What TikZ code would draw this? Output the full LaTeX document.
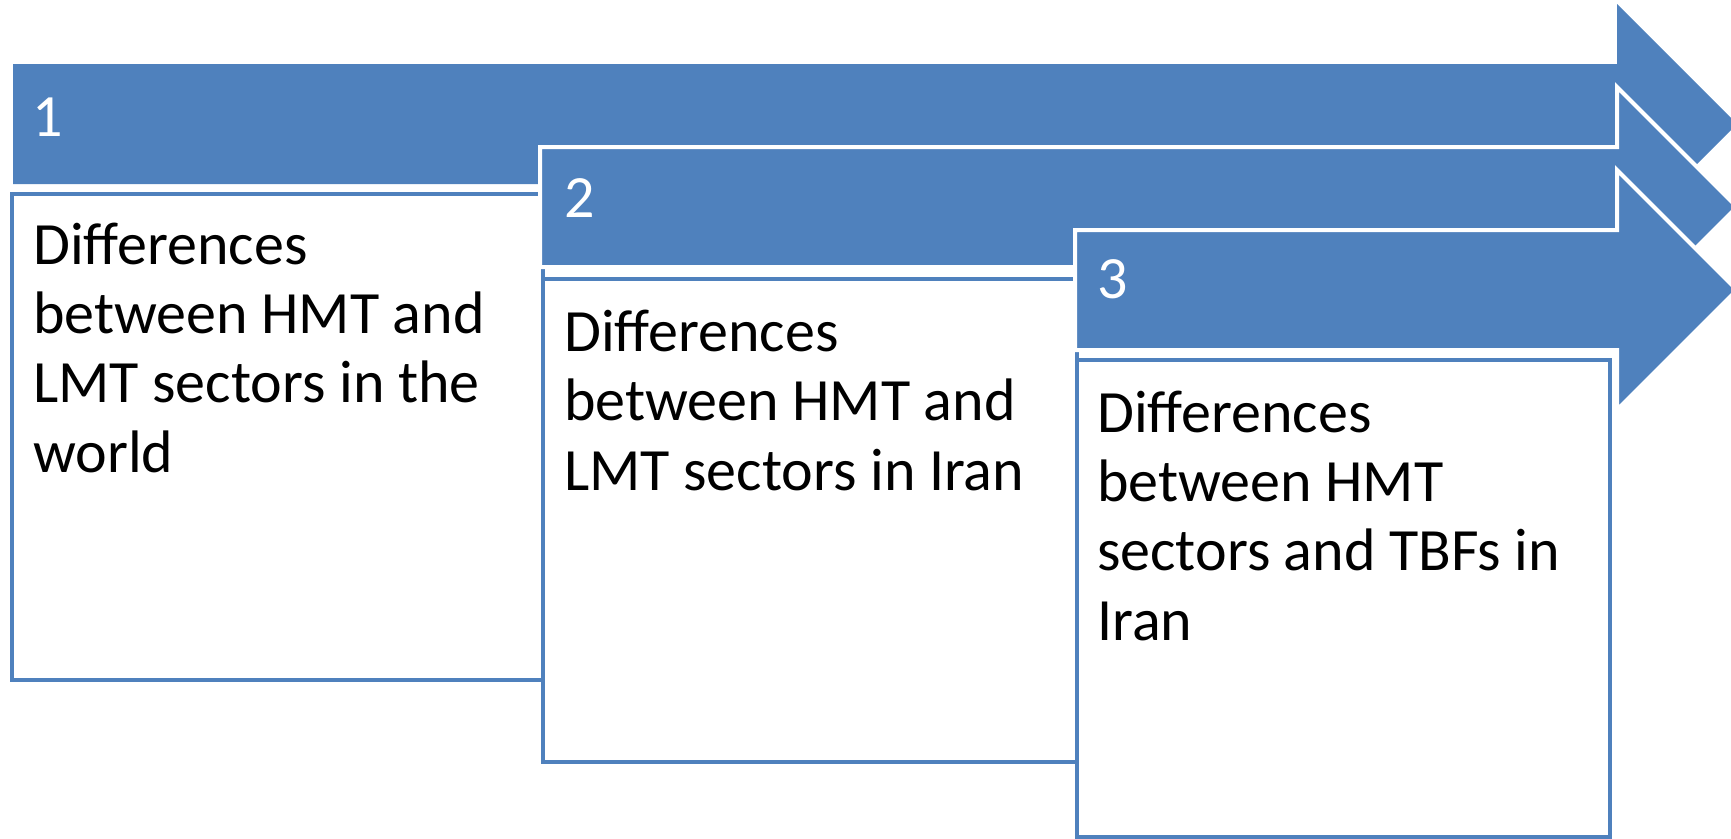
\documentclass[tikz,border=0pt]{standalone}
\usepackage{fontspec}
\setmainfont{Carlito}
\definecolor{accent}{HTML}{4F81BD}
\begin{document}
\begin{tikzpicture}[x=1pt,y=-1pt,
  arrowshape/.style={fill=accent,draw=white,line width=4pt,line join=miter},
  textbox/.style={draw=accent,fill=white,line width=4pt,rectangle,anchor=north west,inner sep=0pt},
  numtext/.style={anchor=base west,text=white,font=\fontsize{60}{69}\selectfont,inner sep=0pt},
  bodytext/.style={anchor=base west,text=black,font=\fontsize{60}{69.3}\selectfont,inner sep=0pt,align=left}]
\useasboundingbox (0,0) rectangle (1731,838);
% arrow 1
\path[arrowshape,draw=none] (13,64) -- (1617,64) -- (1617,4) -- (1737,124) -- (1617,244) -- (1617,184) -- (13,184) -- cycle;
\node[numtext] (n1) at (32,136) {1};
\node[textbox,minimum width=531pt,minimum height=486pt] (box1) at (10,192) {};
\node[bodytext] (t1) at (33,472) {Differences\\between HMT and\\LMT sectors in the\\world};
% arrow 2
\path[arrowshape] (540,147) -- (1617,147) -- (1617,87) -- (1737,207) -- (1617,327) -- (1617,267) -- (540,267) -- cycle;
\node[numtext] (n2) at (564,217) {2};
\node[textbox,minimum width=534pt,minimum height=483pt] (box2) at (541,277) {};
\node[bodytext] (t2) at (564,490) {Differences\\between HMT and\\LMT sectors in Iran};
% arrow 3
\path[arrowshape] (1075,230) -- (1617,230) -- (1617,170) -- (1737,290) -- (1617,410) -- (1617,350) -- (1075,350) -- cycle;
\node[numtext] (n3) at (1097,298) {3};
\node[textbox,minimum width=533pt,minimum height=477pt] (box3) at (1075,358) {};
\node[bodytext] (t3) at (1097,640) {Differences\\between HMT\\sectors and TBFs in\\Iran};
\end{tikzpicture}
\end{document}
